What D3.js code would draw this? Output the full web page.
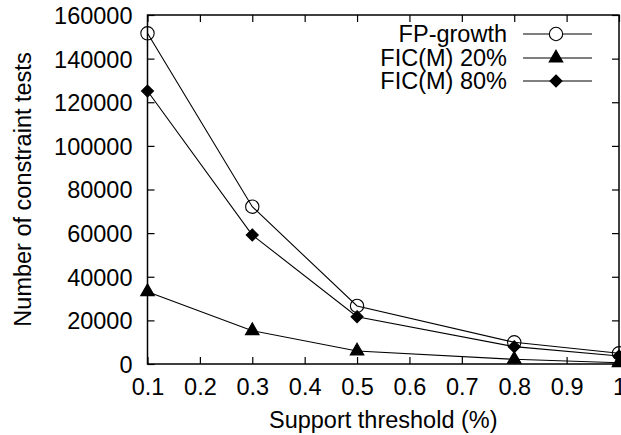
<!DOCTYPE html>
<html><head><meta charset="utf-8">
<script src="https://cdn.jsdelivr.net/npm/d3@7"></script>
<style>body{margin:0;background:#fff}svg{display:block}text{font-family:"Liberation Sans",Arial,sans-serif;fill:#000}</style>
</head><body>
<script>
const xValues = [0.1, 0.3, 0.5, 0.8, 1.0];
const fpGrowth = [151600, 72100, 26600, 9950, 4900];
const fic20 = [33150, 15270, 5960, 2150, 600];
const fic80 = [125150, 59140, 21700, 7950, 3700];
const xTicks = [0.1,0.2,0.3,0.4,0.5,0.6,0.7,0.8,0.9,1];
const yTicks = [0,20000,40000,60000,80000,100000,120000,140000,160000];
const seriesNames = ["FP-growth","FIC(M) 20%","FIC(M) 80%"];

const W=621,H=435;
const L=147.5,R=619,T=15,B=364;
const svg=d3.select("body").append("svg").attr("width",W).attr("height",H);
const x=d3.scaleLinear().domain([0.1,1]).range([L,R]);
const y=d3.scaleLinear().domain([0,160000]).range([B,T]);
const fs=23.5;

const xAxB=d3.axisBottom(x).tickValues(xTicks).tickSize(-7).tickPadding(14).tickFormat(d=>d===1?"1":d3.format(".1f")(d));
const gxb=svg.append("g").attr("transform",`translate(0,${B})`).call(xAxB);
const gxt=svg.append("g").attr("transform",`translate(0,${T})`).call(d3.axisTop(x).tickValues(xTicks).tickSize(-7).tickFormat(""));
const gyl=svg.append("g").attr("transform",`translate(${L},0)`).call(d3.axisLeft(y).tickValues(yTicks).tickSize(-7).tickPadding(15).tickFormat(d3.format("d")));
const gyr=svg.append("g").attr("transform",`translate(${R},0)`).call(d3.axisRight(y).tickValues(yTicks).tickSize(-7).tickFormat(""));
[gxb,gxt,gyl,gyr].forEach(a=>{a.select(".domain").remove();a.selectAll("line").attr("stroke","#000").attr("stroke-width",1.2);a.selectAll("text").attr("font-size",fs).attr("font-family","Liberation Sans, Arial, sans-serif").attr("fill","#000");});
gxb.selectAll("text").attr("dy","0.71em");
gyl.selectAll("text").attr("dy","0.36em");
svg.append("rect").attr("x",L).attr("y",T).attr("width",R-L).attr("height",B-T).attr("fill","none").attr("stroke","#000").attr("stroke-width",1.5);

svg.append("text").attr("x",(L+R)/2).attr("y",428).attr("text-anchor","middle").attr("font-size",fs).text("Support threshold (%)");
svg.append("text").attr("transform",`translate(31,${(T+B)/2}) rotate(-90)`).attr("text-anchor","middle").attr("font-size",fs).text("Number of constraint tests");

const line=d3.line().x((d,i)=>x(xValues[i])).y(d=>y(d));
const data=[fpGrowth,fic20,fic80];
const diamond={draw(ctx,size){const r=6;ctx.moveTo(0,-r);ctx.lineTo(r,0);ctx.lineTo(0,r);ctx.lineTo(-r,0);ctx.closePath();}};
const sym=[
  d3.symbol().type(d3.symbolCircle).size(140),
  d3.symbol().type(d3.symbolTriangle).size(80),
  d3.symbol().type(diamond)
];
const plot=svg.append("g");
data.forEach((s,k)=>{
  plot.append("path").attr("d",line(s)).attr("fill","none").attr("stroke","#000").attr("stroke-width",1.1);
});
data.forEach((s,k)=>{
  plot.selectAll(null).data(s).enter().append("path")
    .attr("d",sym[k]).attr("transform",(d,i)=>`translate(${x(xValues[i])},${y(d)})`)
    .attr("fill",k===0?"none":"#000").attr("stroke","#000").attr("stroke-width",1.1);
});

const ly=[34,58,81];
seriesNames.forEach((n,k)=>{
  svg.append("text").attr("x",507).attr("y",ly[k]).attr("dy","0.36em").attr("text-anchor","end").attr("font-size",fs).text(n);
  svg.append("line").attr("x1",523).attr("x2",592).attr("y1",ly[k]).attr("y2",ly[k]).attr("stroke","#000").attr("stroke-width",1.1);
  svg.append("path").attr("d",sym[k]).attr("transform",`translate(556,${ly[k]})`).attr("fill",k===0?"#fff":"#000").attr("stroke","#000").attr("stroke-width",1.1);
});
</script>
</body></html>
